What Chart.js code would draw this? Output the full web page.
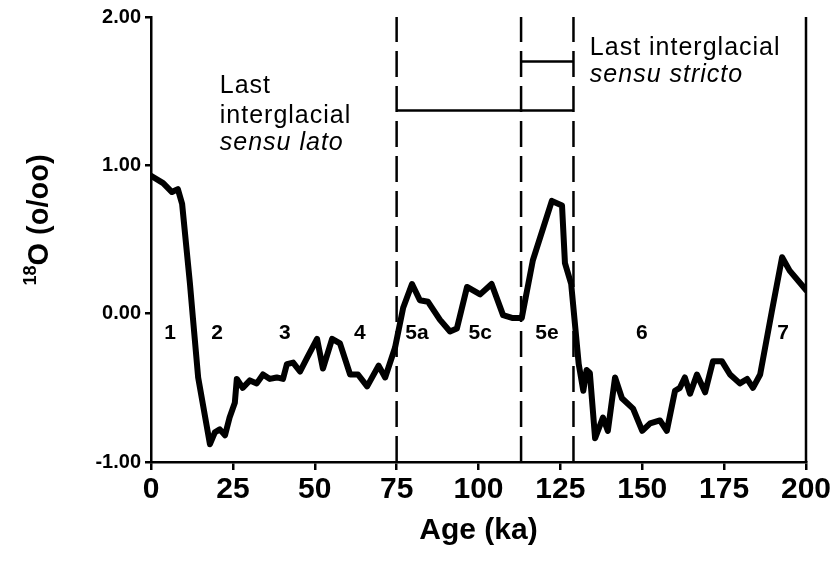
<!DOCTYPE html>
<html>
<head>
<meta charset="utf-8">
<script src="https://cdn.jsdelivr.net/npm/chart.js@4.4.0/dist/chart.umd.min.js"></script>
<style>
  html, body { margin: 0; padding: 0; background: #fff; }
  #wrap { width: 835px; height: 563px; }
</style>
</head>
<body>
<div id="wrap"><canvas id="chart"></canvas></div>
<script>
// oxygen isotope record
const ages = [0, 3.7, 6.4, 8.2, 9.5, 11.9, 12.8, 14.4, 18.0, 19.5, 21.0, 22.6, 24.0, 25.6, 26.2, 28.0,
    30.2, 32.3, 34.2, 36.3, 38.4, 40.3, 41.5, 43.4, 45.5, 47.6, 50.7, 52.5, 55.3, 57.7, 60.8, 63.2,
    66.0, 69.5, 71.5, 74.5, 77.0, 79.7, 82.1, 84.6, 88.2, 91.3, 93.4, 96.5, 100.5, 104.0, 107.5, 110.5,
    113.2, 116.6, 122.4, 125.5, 126.4, 128.3, 130.6, 132.0, 133.0, 134.0, 135.6, 138.0, 139.5, 141.7,
    143.8, 147.2, 150.0, 152.4, 155.4, 157.5, 160.0, 161.5, 163.0, 164.6, 166.7, 169.2, 171.6, 174.3,
    176.8, 179.8, 182.0, 183.8, 186.0, 189.6, 192.7, 195.0, 200.0];
const d18O = [0.93, 0.88, 0.82, 0.84, 0.74, 0.20, -0.03, -0.43, -0.88, -0.80, -0.78, -0.82, -0.70, -0.60, -0.44, -0.50,
    -0.45, -0.47, -0.41, -0.44, -0.43, -0.44, -0.34, -0.33, -0.39, -0.30, -0.17, -0.37, -0.17, -0.20, -0.41, -0.41,
    -0.49, -0.35, -0.43, -0.23, 0.04, 0.20, 0.09, 0.08, -0.04, -0.12, -0.10, 0.18, 0.13, 0.20, -0.01, -0.03,
    -0.03, 0.36, 0.76, 0.73, 0.34, 0.20, -0.34, -0.52, -0.38, -0.40, -0.84, -0.70, -0.79, -0.43,
    -0.57, -0.64, -0.79, -0.74, -0.72, -0.79, -0.52, -0.50, -0.43, -0.54, -0.41, -0.53, -0.32, -0.32,
    -0.41, -0.47, -0.44, -0.50, -0.41, 0.02, 0.38, 0.29, 0.16];

const xTicks = [0, 25, 50, 75, 100, 125, 150, 175, 200];
const yTicks = [-1, 0, 1, 2];

// interglacial boundaries and brackets
const boundaryAges = [75, 113, 129];
const latoSpan = [75, 129];
const latoLevel = 1.37;
const strictoSpan = [113, 129];
const strictoLevel = 1.70;

// isotope stage labels
const stageNames = ['1', '2', '3', '4', '5a', '5c', '5e', '6', '7'];
const stageAges = [5.8, 20.2, 40.9, 63.8, 81.2, 100.5, 120.9, 149.9, 193];
const stageLevel = -0.135;

const FONT = "'Liberation Sans', Arial, Helvetica, sans-serif";

const datasets = [{
    data: ages.map((a, i) => ({ x: a, y: d18O[i] })),
    borderColor: '#000',
    borderWidth: 6,
    borderJoinStyle: 'round',
    borderCapStyle: 'round',
    pointRadius: 0,
    tension: 0,
    fill: false
}];

boundaryAges.forEach(a => {
    datasets.push({
        data: [{ x: a, y: -1 }, { x: a, y: 2 }],
        borderColor: '#000',
        borderWidth: 2.5,
        borderDash: [26, 9],
        pointRadius: 0
    });
});

[[latoSpan, latoLevel], [strictoSpan, strictoLevel]].forEach(([span, lvl]) => {
    datasets.push({
        data: [{ x: span[0], y: lvl }, { x: span[1], y: lvl }],
        borderColor: '#000',
        borderWidth: 2.5,
        pointRadius: 0
    });
});

const extras = {
    id: 'extras',
    afterDatasetsDraw(chart) {
        const { ctx, chartArea, scales: { x, y } } = chart;
        ctx.save();

        // right frame line
        ctx.strokeStyle = '#000';
        ctx.lineWidth = 2.5;
        ctx.beginPath();
        ctx.moveTo(chartArea.right, chartArea.top);
        ctx.lineTo(chartArea.right, chartArea.bottom);
        ctx.stroke();

        ctx.fillStyle = '#000';

        // stage labels
        ctx.font = 'bold 21px ' + FONT;
        ctx.textAlign = 'center';
        ctx.textBaseline = 'middle';
        stageNames.forEach((s, i) => {
            ctx.fillText(s, x.getPixelForValue(stageAges[i]), y.getPixelForValue(stageLevel));
        });

        // interglacial notes
        ctx.textAlign = 'left';
        ctx.textBaseline = 'alphabetic';
        ctx.letterSpacing = '1px';
        const lx = x.getPixelForValue(21);
        ctx.font = '25px ' + FONT;
        ctx.fillText('Last', lx, y.getPixelForValue(1.486));
        ctx.fillText('interglacial', lx, y.getPixelForValue(1.284));
        ctx.font = 'italic 25px ' + FONT;
        ctx.fillText('sensu lato', lx, y.getPixelForValue(1.101));

        const rx = x.getPixelForValue(134);
        ctx.font = '25px ' + FONT;
        ctx.fillText('Last interglacial', rx, y.getPixelForValue(1.743));
        ctx.font = 'italic 25px ' + FONT;
        ctx.fillText('sensu stricto', rx, y.getPixelForValue(1.56));
        ctx.letterSpacing = '0px';

        // y title with superscript 18
        ctx.translate(38, 220);
        ctx.rotate(-Math.PI / 2);
        const supFont = 'bold 18px ' + FONT;
        const mainFont = 'bold 29px ' + FONT;
        ctx.font = supFont;
        const w1 = ctx.measureText('18').width;
        ctx.font = mainFont;
        const w2 = ctx.measureText('O (o/oo)').width;
        let start = -(w1 + w2) / 2;
        ctx.font = supFont;
        ctx.fillText('18', start, -2);
        ctx.font = mainFont;
        ctx.fillText('O (o/oo)', start + w1, 10);

        ctx.restore();
    }
};

new Chart(document.getElementById('chart'), {
    type: 'line',
    data: { datasets },
    options: {
        responsive: true,
        maintainAspectRatio: false,
        animation: false,
        devicePixelRatio: 1,
        layout: { padding: { left: 0, right: 29, top: 17, bottom: 0 } },
        plugins: { legend: { display: false }, tooltip: { enabled: false } },
        scales: {
            x: {
                type: 'linear',
                min: 0,
                max: 200,
                afterBuildTicks: s => { s.ticks = xTicks.map(v => ({ value: v })); },
                afterFit: s => { s.height = 101; },
                grid: { drawOnChartArea: false, color: '#000', lineWidth: 2.5, tickLength: 8 },
                border: { color: '#000', width: 2.5 },
                ticks: { color: '#000', padding: 2, maxRotation: 0, font: { family: FONT, size: 30, weight: 'bold' } },
                title: {
                    display: true,
                    text: 'Age (ka)',
                    color: '#000',
                    padding: { top: 0, bottom: 14 },
                    font: { family: FONT, size: 30, weight: 'bold' }
                }
            },
            y: {
                min: -1,
                max: 2,
                afterBuildTicks: s => { s.ticks = yTicks.map(v => ({ value: v })); },
                afterFit: s => { s.width = 151; },
                grid: { drawOnChartArea: false, color: '#000', lineWidth: 2.5, tickLength: 6 },
                border: { color: '#000', width: 2.5 },
                ticks: {
                    color: '#000',
                    padding: 4,
                    font: { family: FONT, size: 20, weight: 'bold' },
                    callback: v => v.toFixed(2)
                }
            }
        }
    },
    plugins: [extras]
});
</script>
</body>
</html>
